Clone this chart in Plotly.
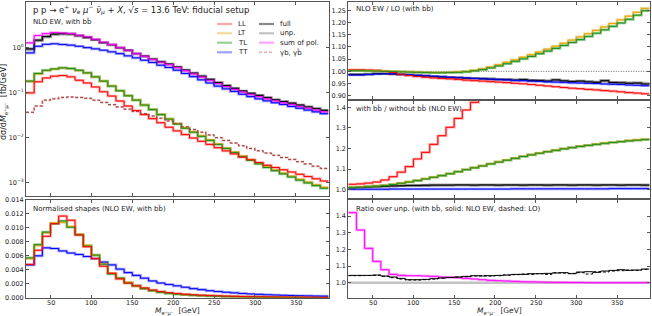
import plotly.graph_objects as go

W, H = 652, 316

BIN_EDGES = [20, 30, 40, 50, 60, 70, 80, 90, 100, 110, 120, 130, 140, 150, 160, 170, 180, 190,
             200, 210, 220, 230, 240, 250, 260, 270, 280, 290, 300, 310, 320, 330, 340, 350,
             360, 370, 380, 390]
X_TICKS = [50, 100, 150, 200, 250, 300, 350]

# ---- top-left: dsigma/dM [fb/GeV] ----
LL = [0.0977, 0.172, 0.209, 0.229, 0.237, 0.221, 0.186, 0.162, 0.132, 0.1035, 0.0832, 0.0646, 0.0501,
      0.0398, 0.0324, 0.0263, 0.0214, 0.0170, 0.0141, 0.0117, 0.0098, 0.0083, 0.0071, 0.0060, 0.0051,
      0.00437, 0.00372, 0.00324, 0.00282, 0.00245, 0.00219, 0.00195, 0.00174, 0.00155, 0.00138,
      0.00123, 0.00110]
LT = [0.176, 0.258, 0.305, 0.329, 0.347, 0.337, 0.308, 0.270, 0.221, 0.179, 0.139, 0.1092, 0.0850,
      0.0682, 0.0531, 0.0422, 0.0328, 0.0261, 0.0204, 0.0165, 0.0135, 0.0110, 0.0089, 0.00725,
      0.00590, 0.00481, 0.00391, 0.00326, 0.00272, 0.00227, 0.00193, 0.00164, 0.00140, 0.00120,
      0.00104, 0.00091, 0.00080]
TL = [0.178, 0.263, 0.309, 0.331, 0.350, 0.339, 0.309, 0.271, 0.221, 0.178, 0.138, 0.1086, 0.0843,
      0.0676, 0.0525, 0.0417, 0.0324, 0.0257, 0.0200, 0.0162, 0.0132, 0.0107, 0.0087, 0.00708,
      0.00575, 0.00468, 0.00380, 0.00316, 0.00263, 0.00219, 0.00186, 0.00158, 0.00135, 0.00115,
      0.00100, 0.00087, 0.00076]
TT = [0.75, 1.05, 1.16, 1.19, 1.15, 1.11, 1.05, 0.98, 0.92, 0.86, 0.79, 0.72, 0.645, 0.582, 0.516,
      0.459, 0.400, 0.356, 0.310, 0.263, 0.224, 0.190, 0.162, 0.138, 0.120, 0.105, 0.091, 0.081,
      0.072, 0.065, 0.059, 0.054, 0.049, 0.0447, 0.0407, 0.0372, 0.0339]
SUM_POL = [1.25, 1.81, 2.00, 2.11, 2.07, 2.00, 1.84, 1.69, 1.50, 1.29, 1.15, 0.98, 0.86, 0.72, 0.63,
           0.535, 0.467, 0.414, 0.355, 0.302, 0.257, 0.219, 0.186, 0.158, 0.135, 0.117, 0.102, 0.091,
           0.081, 0.072, 0.065, 0.059, 0.054, 0.049, 0.0447, 0.0407, 0.0372]
UNP = [0.880, 1.375, 1.658, 1.870, 1.920, 1.905, 1.762, 1.622, 1.440, 1.240, 1.108, 0.948, 0.833,
       0.699, 0.614, 0.523, 0.459, 0.408, 0.351, 0.299, 0.255, 0.218, 0.185, 0.157, 0.1346, 0.1168,
       0.1018, 0.0909, 0.0810, 0.0720, 0.0650, 0.0590, 0.0540, 0.0490, 0.0447, 0.0407, 0.0372]
FULL = [0.919, 1.435, 1.731, 1.956, 1.997, 1.970, 1.808, 1.651, 1.466, 1.265, 1.135, 0.975, 0.860,
        0.723, 0.637, 0.545, 0.477, 0.425, 0.366, 0.313, 0.268, 0.229, 0.195, 0.1655, 0.1421, 0.1236,
        0.1079, 0.0958, 0.0862, 0.0768, 0.0690, 0.0631, 0.0580, 0.0528, 0.0480, 0.0438, 0.0402]
GAMMA_B = [0.0363, 0.0501, 0.0676, 0.0724, 0.0776, 0.0794, 0.0776, 0.0741, 0.0676, 0.0603, 0.0537,
           0.0479, 0.0427, 0.0380, 0.0339, 0.0302, 0.0269, 0.0234, 0.0204, 0.0174, 0.0151, 0.0132,
           0.0115, 0.0100, 0.0087, 0.0076, 0.0066, 0.00575, 0.00513, 0.00457, 0.00407, 0.00363,
           0.00331, 0.00295, 0.00263, 0.00234, 0.00209]

# ---- bottom-left: normalised shapes ----
N_LL = [0.00476, 0.0068, 0.0088, 0.0106, 0.0117, 0.0111, 0.0090, 0.0073, 0.0056, 0.0045, 0.0035,
        0.0027, 0.0021, 0.0017, 0.0014, 0.0011, 0.00088, 0.00072, 0.00060, 0.00050, 0.00042, 0.00036,
        0.00031, 0.00027, 0.00023, 0.00020, 0.00017, 0.00015, 0.00013, 0.00012, 0.00011, 0.00010,
        0.00009, 0.00008, 0.00007, 0.00006, 0.000055]
N_LT = [0.0056, 0.0075, 0.0093, 0.0107, 0.0108, 0.0102, 0.0091, 0.0075, 0.0061, 0.0049, 0.0035,
        0.0028, 0.0022, 0.0017, 0.0013, 0.0010, 0.00080, 0.00064, 0.00052, 0.00043, 0.00036, 0.00030,
        0.00025, 0.00021, 0.00017, 0.00014, 0.00012, 0.00010, 0.000085, 0.000074, 0.000064, 0.000055,
        0.000047, 0.00004, 0.000034, 0.00003, 0.000027]
N_TL = [0.0057, 0.0076, 0.0094, 0.0106, 0.0110, 0.0101, 0.0090, 0.0074, 0.0061, 0.0048, 0.0034,
        0.0028, 0.0021, 0.0017, 0.0013, 0.0010, 0.00078, 0.00062, 0.00050, 0.00042, 0.00035, 0.00029,
        0.00024, 0.00020, 0.00016, 0.00013, 0.00011, 0.00009, 0.00008, 0.00007, 0.00006, 0.00005,
        0.00004, 0.000035, 0.00003, 0.000027, 0.000024]
N_TT = [0.0047, 0.0060, 0.00714, 0.00705, 0.0067, 0.0064, 0.0062, 0.0059, 0.0056, 0.0051, 0.0047,
        0.0041, 0.0036, 0.0032, 0.0028, 0.0024, 0.0021, 0.0019, 0.0017, 0.0015, 0.0013, 0.00115,
        0.0010, 0.00088, 0.00078, 0.00069, 0.00061, 0.00054, 0.00048, 0.00043, 0.00039, 0.00035,
        0.00032, 0.00029, 0.00026, 0.00024, 0.00022]

# ---- top-right: NLO EW / LO ----
R1_LL = [1.006, 1.006, 1.005, 1.004, 1.000, 0.995, 0.988, 0.983, 0.979, 0.976, 0.973, 0.971, 0.969,
         0.967, 0.964, 0.962, 0.960, 0.958, 0.956, 0.954, 0.951, 0.949, 0.946, 0.943, 0.940, 0.937,
         0.934, 0.931, 0.929, 0.926, 0.924, 0.921, 0.919, 0.916, 0.913, 0.911, 0.908]
R1_LT = [1.004, 1.004, 1.003, 1.002, 1.001, 1.000, 0.999, 0.998, 0.997, 0.996, 0.995, 0.995, 0.996,
         0.998, 1.000, 1.004, 1.010, 1.018, 1.027, 1.037, 1.047, 1.058, 1.068, 1.079, 1.091, 1.103,
         1.115, 1.128, 1.141, 1.154, 1.168, 1.182, 1.196, 1.211, 1.226, 1.242, 1.258]
R1_TL = [1.003, 1.003, 1.002, 1.001, 1.000, 0.999, 0.998, 0.997, 0.996, 0.995, 0.994, 0.994, 0.995,
         0.996, 0.998, 1.002, 1.007, 1.014, 1.022, 1.031, 1.041, 1.051, 1.061, 1.072, 1.083, 1.094,
         1.106, 1.118, 1.130, 1.143, 1.156, 1.170, 1.184, 1.198, 1.213, 1.230, 1.248]
R1_TT = [0.985, 0.985, 0.987, 0.989, 0.990, 0.990, 0.988, 0.986, 0.984, 0.982, 0.980, 0.978, 0.976,
         0.974, 0.973, 0.971, 0.969, 0.968, 0.966, 0.965, 0.963, 0.962, 0.960, 0.959, 0.957, 0.956,
         0.955, 0.953, 0.952, 0.951, 0.950, 0.948, 0.947, 0.946, 0.944, 0.943, 0.941]
R1_FULL = [0.987, 0.987, 0.988, 0.990, 0.990, 0.989, 0.987, 0.985, 0.983, 0.981, 0.979, 0.977, 0.975,
           0.974, 0.972, 0.971, 0.970, 0.968, 0.967, 0.966, 0.964, 0.966, 0.963, 0.962, 0.960, 0.965,
           0.961, 0.958, 0.960, 0.957, 0.955, 0.962, 0.954, 0.953, 0.951, 0.952, 0.948]
R1_UNP = [0.988, 0.988, 0.989, 0.990, 0.990, 0.989, 0.987, 0.985, 0.983, 0.981, 0.979, 0.978, 0.976,
          0.975, 0.973, 0.972, 0.970, 0.969, 0.967, 0.966, 0.965, 0.964, 0.963, 0.963, 0.961, 0.962,
          0.960, 0.959, 0.958, 0.958, 0.957, 0.956, 0.955, 0.955, 0.954, 0.953, 0.952]
REF_LEVEL = 1.0

# ---- middle-right: with bb / without bb ----
R2_LL = [1.026, 1.028, 1.032, 1.037, 1.047, 1.063, 1.085, 1.112, 1.149, 1.181, 1.220, 1.262, 1.303,
         1.346, 1.387, 1.424, 1.470, None, None, None, None, None, None, None, None, None, None,
         None, None, None, None, None, None, None, None, None, None]
R2_LT = [1.011, 1.013, 1.015, 1.018, 1.021, 1.026, 1.032, 1.038, 1.045, 1.053, 1.061, 1.069, 1.078,
         1.088, 1.098, 1.107, 1.116, 1.126, 1.135, 1.144, 1.153, 1.162, 1.170, 1.178, 1.185, 1.192,
         1.199, 1.205, 1.211, 1.216, 1.221, 1.226, 1.230, 1.234, 1.238, 1.242, 1.245]
R2_TL = [1.010, 1.012, 1.014, 1.017, 1.020, 1.025, 1.031, 1.037, 1.044, 1.052, 1.060, 1.068, 1.077,
         1.087, 1.097, 1.106, 1.115, 1.125, 1.134, 1.143, 1.152, 1.161, 1.169, 1.177, 1.184, 1.191,
         1.198, 1.204, 1.210, 1.215, 1.220, 1.225, 1.229, 1.233, 1.237, 1.240, 1.243]
R2_TT = [1.002, 1.002, 1.002, 1.002, 1.002, 1.003, 1.003, 1.003, 1.003, 1.003, 1.003, 1.003, 1.003,
         1.003, 1.003, 1.003, 1.003, 1.003, 1.003, 1.003, 1.004, 1.004, 1.004, 1.004, 1.004, 1.004,
         1.004, 1.004, 1.004, 1.004, 1.004, 1.004, 1.005, 1.005, 1.005, 1.005, 1.005]
R2_UNP = [1.010, 1.012, 1.014, 1.016, 1.017, 1.018, 1.019, 1.020, 1.021, 1.022, 1.022, 1.023, 1.023,
          1.023, 1.023, 1.023, 1.023, 1.023, 1.023, 1.023, 1.023, 1.023, 1.023, 1.023, 1.023, 1.023,
          1.023, 1.023, 1.023, 1.023, 1.023, 1.023, 1.023, 1.023, 1.023, 1.023, 1.023]
R2_FULL = [1.009, 1.011, 1.013, 1.015, 1.017, 1.018, 1.019, 1.020, 1.020, 1.021, 1.022, 1.022, 1.022,
           1.023, 1.023, 1.022, 1.023, 1.023, 1.022, 1.023, 1.023, 1.022, 1.023, 1.023, 1.022, 1.023,
           1.023, 1.022, 1.023, 1.023, 1.022, 1.023, 1.023, 1.022, 1.023, 1.023, 1.022]

# ---- bottom-right: ratio over unp. ----
R3_SUM = [1.420, 1.316, 1.206, 1.128, 1.078, 1.050, 1.044, 1.042, 1.042, 1.040, 1.038, 1.034, 1.032,
          1.030, 1.026, 1.022, 1.018, 1.014, 1.012, 1.010, 1.008, 1.006, 1.005, 1.004, 1.003, 1.002,
          1.002, 1.001, 1.001, 1.000, 1.000, 1.000, 1.000, 1.000, 1.000, 1.000, 1.000]
R3_FULL_NLO = [1.044, 1.044, 1.044, 1.046, 1.040, 1.034, 1.026, 1.018, 1.018, 1.020, 1.024, 1.028,
               1.032, 1.034, 1.038, 1.042, 1.040, 1.042, 1.044, 1.046, 1.050, 1.050, 1.054, 1.054,
               1.056, 1.058, 1.060, 1.054, 1.064, 1.066, 1.062, 1.070, 1.074, 1.078, 1.074, 1.076, 1.082]
R3_FULL_LO = [1.042, 1.042, 1.043, 1.044, 1.038, 1.030, 1.022, 1.016, 1.016, 1.018, 1.022, 1.027,
              1.031, 1.034, 1.036, 1.040, 1.042, 1.040, 1.042, 1.046, 1.048, 1.052, 1.050, 1.054,
              1.050, 1.060, 1.058, 1.056, 1.060, 1.052, 1.066, 1.064, 1.070, 1.072, 1.076, 1.074, 1.080]
R3_UNP = [1.000, 1.000, 1.000, 1.000, 1.000, 1.000, 1.000, 1.000, 1.000, 1.000, 1.000, 1.000, 1.000,
          1.000, 1.000, 1.000, 1.000, 1.000, 1.000, 1.000, 1.000, 1.000, 1.000, 1.000, 1.000, 1.000,
          1.000, 1.000, 1.000, 1.000, 1.000, 1.000, 1.000, 1.000, 1.000, 1.000, 1.000]

LEGEND_COL1 = ["LL", "LT", "TL", "TT"]
LEGEND_COL2 = ["full", "unp.", "sum of pol.", "γb, γb̄"]

# colours: (dark thin, light thick)
C_LL = ("#ff0000", "rgba(255,95,95,0.55)")
C_LT = ("#e0a000", "rgba(240,190,80,0.6)")
C_TL = ("#1e8c1e", "rgba(80,175,80,0.6)")
C_TT = ("#0000ff", "rgba(95,95,255,0.6)")
C_FULL = ("#000000", "rgba(70,70,70,0.65)")
C_UNP = ("#8c8c8c", "rgba(175,175,175,0.75)")
C_SUM = ("#ff00ff", "rgba(255,90,255,0.55)")
C_GB = ("#a83c3c", "rgba(205,120,120,0.6)")

FONT = "DejaVu Sans"
fig = go.Figure()


def add(vals, ax, color, width, dash="solid"):
    yv = list(vals) + [vals[-1]]
    fig.add_trace(go.Scatter(
        x=BIN_EDGES, y=yv, mode="lines",
        line=dict(color=color, width=width, shape="hv", dash=dash),
        xaxis="x" + ax, yaxis="y" + ax, showlegend=False, hoverinfo="skip"))


def pair(vals, ax, col, dash="solid"):
    add(vals, ax, col[1], 2.6, dash)


def dark(vals, ax, col, dash="solid"):
    add(vals, ax, col[0], 1.0, dash)


# top-left
for v, c in [(UNP, C_UNP), (FULL, C_FULL), (SUM_POL, C_SUM), (TT, C_TT), (LT, C_LT), (TL, C_TL), (LL, C_LL)]:
    pair(v, "", c)
add(GAMMA_B, "", C_GB[1], 2.0, "3px,2px")
for v, c in [(FULL, C_FULL), (SUM_POL, C_SUM), (TT, C_TT), (LT, C_LT), (TL, C_TL), (LL, C_LL)]:
    dark(v, "", c)
add(GAMMA_B, "", C_GB[0], 1.0, "3px,2px")

# bottom-left
for v, c in [(N_TT, C_TT), (N_LT, C_LT), (N_TL, C_TL), (N_LL, C_LL)]:
    pair(v, "2", c)
for v, c in [(N_TT, C_TT), (N_LT, C_LT), (N_TL, C_TL), (N_LL, C_LL)]:
    dark(v, "2", c)

# top-right
for v, c in [(R1_UNP, C_UNP), (R1_FULL, C_FULL), (R1_TT, C_TT), (R1_LL, C_LL), (R1_LT, C_LT), (R1_TL, C_TL)]:
    pair(v, "3", c)
for v, c in [(R1_FULL, C_FULL), (R1_TT, C_TT), (R1_LL, C_LL), (R1_LT, C_LT), (R1_TL, C_TL)]:
    dark(v, "3", c)

# middle-right
for v, c in [(R2_UNP, C_UNP), (R2_FULL, C_FULL), (R2_TT, C_TT), (R2_LT, C_LT), (R2_TL, C_TL), (R2_LL, C_LL)]:
    pair(v, "4", c)
for v, c in [(R2_FULL, C_FULL), (R2_TT, C_TT), (R2_LT, C_LT), (R2_TL, C_TL), (R2_LL, C_LL)]:
    dark(v, "4", c)

# bottom-right
pair(R3_UNP, "5", C_UNP)
pair(R3_SUM, "5", C_SUM)
dark(R3_SUM, "5", C_SUM)
add(R3_FULL_LO, "5", "#000000", 1.0, "3px,2px")
add(R3_FULL_NLO, "5", "#000000", 1.0)


def px(x):
    return x / W


def py(y):
    return 1 - y / H


LX = [px(26), px(328.5)]
RX = [px(348.3), px(649.6)]
AX_LINE = "#555555"
TICKFONT = dict(family=FONT, size=6.5, color="#222222")


def xax(dom, anchor):
    return dict(domain=dom, anchor=anchor, range=[20, 390], tickvals=X_TICKS, ticks="inside",
                ticklen=3, tickwidth=0.8, tickcolor=AX_LINE, showline=True, linecolor=AX_LINE,
                linewidth=1, mirror="ticks", showgrid=False, zeroline=False, automargin=False,
                showticklabels=False, tickfont=TICKFONT)


def yax(dom, anchor, rng, **kw):
    d = dict(domain=dom, anchor=anchor, range=rng, ticks="inside", ticklen=3, tickwidth=0.8,
             tickcolor=AX_LINE, showline=True, linecolor=AX_LINE, linewidth=1, mirror="ticks",
             showgrid=False, zeroline=False, automargin=False, tickfont=TICKFONT)
    d.update(kw)
    return d


LOG_TICKS = [0.001, 0.01, 0.1, 1, 10]
LOG_TEXT = ["10<sup>−3</sup>", "10<sup>−2</sup>", "10<sup>−1</sup>", "10<sup>0</sup>", "10<sup>1</sup>"]

fig.update_layout(
    width=W, height=H, margin=dict(l=0, r=0, t=0, b=0, autoexpand=False),
    paper_bgcolor="white", plot_bgcolor="white",
    font=dict(family=FONT, size=7, color="#222222"),
    xaxis=xax(LX, "y"),
    yaxis=yax([py(196), py(2)], "x", [-3.29, 1.0], type="log", tickvals=LOG_TICKS, ticktext=LOG_TEXT),
    xaxis2=xax(LX, "y2"),
    yaxis2=yax([py(297.7), py(200)], "x2", [0, 0.014], dtick=0.002, tick0=0, tickformat=".3f"),
    xaxis3=xax(RX, "y3"),
    yaxis3=yax([py(98.7), py(2)], "x3", [0.888, 1.284], dtick=0.05, tick0=0.9, tickformat=".2f"),
    xaxis4=xax(RX, "y4"),
    yaxis4=yax([py(197.7), py(100.7)], "x4", [0.961, 1.432], dtick=0.1, tick0=1.0, tickformat=".1f"),
    xaxis5=xax(RX, "y5"),
    yaxis5=yax([py(297.7), py(200)], "x5", [0.91, 1.496], dtick=0.1, tick0=1.0, tickformat=".1f"),
)

# dotted reference line in NLO/LO panel
fig.add_shape(type="line", xref="x3", yref="y3", x0=BIN_EDGES[0], x1=BIN_EDGES[-1],
              y0=REF_LEVEL, y1=REF_LEVEL, line=dict(color="#666666", width=1, dash="1px,1.5px"), layer="below")


def note(text, x, y, size=7, anchor="left", **kw):
    fig.add_annotation(text=text, x=px(x), y=py(y), xref="paper", yref="paper", xanchor=anchor,
                       yanchor="middle", showarrow=False,
                       font=dict(family=FONT, size=size, color="#222222"), **kw)


# x tick labels of the two bottom panels, placed on their axes' data coordinates
for xref in ("x2", "x5"):
    for t in X_TICKS:
        fig.add_annotation(text=str(t), x=t, xref=xref, y=py(302.5), yref="paper", showarrow=False,
                           xanchor="center", yanchor="middle", font=TICKFONT)

note("p p → e<sup>+</sup> <i>ν</i><sub>e</sub> <i>μ</i><sup>−</sup> <i>ν̄</i><sub><i>μ</i></sub> + <i>X</i>, √<i>s</i> = 13.6 TeV: fiducial setup",
     31, 10, size=8.5)
note("NLO EW, with bb̄", 31, 21)
note("Normalised shapes (NLO EW, with bb̄)", 31, 208.5)
note("NLO EW / LO (with bb̄)", 354, 8)
note("with bb̄ / without bb̄ (NLO EW)", 354, 108.5)
note("Ratio over unp. (with bb̄, solid: NLO EW, dashed: LO)", 354, 208.5)

XTITLE = "<i>M</i><sub>e⁺μ⁻</sub>  [GeV]"
note(XTITLE, 177, 311, size=7.5, anchor="center")
note(XTITLE, 499, 311, size=7.5, anchor="center")

fig.add_annotation(text="dσ/d<i>M</i><sub>e⁺μ⁻</sub>  [fb/GeV]", x=px(5), y=py(102), xref="paper",
                   yref="paper", textangle=-90, showarrow=False, xanchor="center", yanchor="middle",
                   font=dict(family=FONT, size=8, color="#222222"))

# legend (two columns)
ROW_Y = [24, 33.3, 42.7, 52.3]
for lab, yy, col in zip(LEGEND_COL1, ROW_Y, [C_LL, C_LT, C_TL, C_TT]):
    fig.add_shape(type="line", xref="paper", yref="paper", x0=px(217), x1=px(232), y0=py(yy), y1=py(yy),
                  line=dict(color=col[1], width=2.2))
    note(lab, 236, yy)
for i, (lab, yy, col) in enumerate(zip(LEGEND_COL2, ROW_Y, [C_FULL, C_UNP, C_SUM, C_GB])):
    fig.add_shape(type="line", xref="paper", yref="paper", x0=px(259), x1=px(274), y0=py(yy), y1=py(yy),
                  line=dict(color=col[1], width=2.2 if i < 3 else 1.6, dash="solid" if i < 3 else "3px,2px"))
    note(lab, 278, yy)

fig.write_html("out.html", config={"displayModeBar": False},
               post_script="document.body.style.margin='0px';document.body.style.padding='0px';")
